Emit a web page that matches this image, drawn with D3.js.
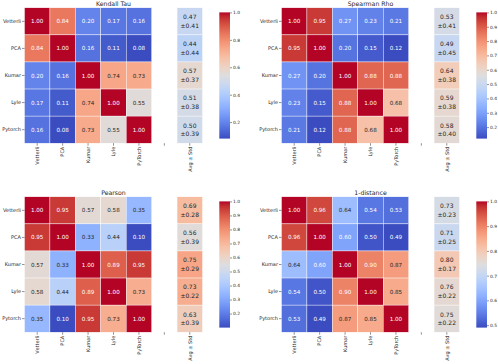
<!DOCTYPE html>
<html>
<head>
<meta charset="utf-8">
<script src="https://cdn.jsdelivr.net/npm/d3@7"></script>
<style>
  html, body { margin: 0; padding: 0; background: #fff; }
  svg { display: block; font-family: "DejaVu Sans", sans-serif; }
</style>
</head>
<body>
<svg id="chart" width="498" height="364"></svg>
<script>
// ---------- data ----------
const rowLabels = ["Vetterli", "PCA", "Kumar", "Lyle", "Pytorch"];
const colLabels = ["Vetterli", "PCA", "Kumar", "Lyle", "PyTorch", "", "Avg \u00b1 Std"];

const kendall = [
  [1.00, 0.84, 0.20, 0.17, 0.16],
  [0.84, 1.00, 0.16, 0.11, 0.08],
  [0.20, 0.16, 1.00, 0.74, 0.73],
  [0.17, 0.11, 0.74, 1.00, 0.55],
  [0.16, 0.08, 0.73, 0.55, 1.00]
];
const kendallAvg = [0.47, 0.44, 0.57, 0.51, 0.50];
const kendallStd = [0.41, 0.44, 0.37, 0.38, 0.39];
const kendallTicks = [0.2, 0.4, 0.6, 0.8, 1.0];

const spearman = [
  [1.00, 0.95, 0.27, 0.23, 0.21],
  [0.95, 1.00, 0.20, 0.15, 0.12],
  [0.27, 0.20, 1.00, 0.88, 0.88],
  [0.23, 0.15, 0.88, 1.00, 0.68],
  [0.21, 0.12, 0.88, 0.68, 1.00]
];
const spearmanAvg = [0.53, 0.49, 0.64, 0.59, 0.58];
const spearmanStd = [0.41, 0.45, 0.38, 0.38, 0.40];
const spearmanTicks = [0.2, 0.3, 0.4, 0.5, 0.6, 0.7, 0.8, 0.9, 1.0];

const pearson = [
  [1.00, 0.95, 0.57, 0.58, 0.35],
  [0.95, 1.00, 0.33, 0.44, 0.10],
  [0.57, 0.33, 1.00, 0.89, 0.95],
  [0.58, 0.44, 0.89, 1.00, 0.73],
  [0.35, 0.10, 0.95, 0.73, 1.00]
];
const pearsonAvg = [0.69, 0.56, 0.75, 0.73, 0.63];
const pearsonStd = [0.28, 0.39, 0.29, 0.22, 0.39];
const pearsonTicks = [0.2, 0.3, 0.4, 0.5, 0.6, 0.7, 0.8, 0.9, 1.0];

const oneDist = [
  [1.00, 0.96, 0.64, 0.54, 0.53],
  [0.96, 1.00, 0.60, 0.50, 0.49],
  [0.64, 0.60, 1.00, 0.90, 0.87],
  [0.54, 0.50, 0.90, 1.00, 0.85],
  [0.53, 0.49, 0.87, 0.85, 1.00]
];
const oneDistAvg = [0.73, 0.71, 0.80, 0.76, 0.75];
const oneDistStd = [0.23, 0.25, 0.17, 0.22, 0.22];
const oneDistTicks = [0.5, 0.6, 0.7, 0.8, 0.9, 1.0];

const titles = ["Kendall Tau", "Spearman Rho", "Pearson", "1-distance"];

// ---------- colormap (matplotlib coolwarm) ----------
const coolwarmStops = [
  [59,76,192],[68,90,204],[77,104,215],[87,117,225],[98,130,234],[108,142,241],
  [119,154,247],[130,165,251],[141,176,254],[152,185,255],[163,194,255],[174,201,253],
  [184,208,249],[194,213,244],[204,217,238],[213,219,230],[221,221,221],[229,216,209],
  [236,211,197],[241,204,185],[245,196,173],[247,187,160],[247,177,148],[247,166,135],
  [244,154,123],[241,141,111],[236,127,99],[229,112,88],[222,96,77],[213,80,66],
  [203,62,56],[192,40,47],[180,4,38]
].map(c => `rgb(${c[0]},${c[1]},${c[2]})`);
const coolwarm = d3.scaleLinear()
  .domain(d3.range(33).map(i => i / 32))
  .range(coolwarmStops)
  .interpolate(d3.interpolateRgb)
  .clamp(true);

function luminance(colStr) {
  const c = d3.rgb(colStr);
  const f = v => { v = v / 255; return v <= 0.03928 ? v / 12.92 : Math.pow((v + 0.055) / 1.055, 2.4); };
  return 0.2126 * f(c.r) + 0.7152 * f(c.g) + 0.0722 * f(c.b);
}

// ---------- drawing ----------
const svg = d3.select("#chart");
const panels = [
  { title: titles[0], m: kendall,  avg: kendallAvg,  std: kendallStd,  ticks: kendallTicks,  ox: 0,   oy: 0 },
  { title: titles[1], m: spearman, avg: spearmanAvg, std: spearmanStd, ticks: spearmanTicks, ox: 257, oy: 0 },
  { title: titles[2], m: pearson,  avg: pearsonAvg,  std: pearsonStd,  ticks: pearsonTicks,  ox: 0,   oy: 189 },
  { title: titles[3], m: oneDist,  avg: oneDistAvg,  std: oneDistStd,  ticks: oneDistTicks,  ox: 257, oy: 189 }
];

const textCol = "#262626";

panels.forEach((p, pi) => {
  const g = svg.append("g").attr("transform", `translate(${p.ox},${p.oy})`);
  const x = d3.scaleBand().domain(d3.range(7)).range([24.5, 202.5]);
  const y = d3.scaleBand().domain(d3.range(5)).range([7.8, 143.2]);
  const flat = p.m.flat();
  const vmin = d3.min(flat), vmax = d3.max(flat);
  const norm = d3.scaleLinear().domain([vmin, vmax]).range([0, 1]);
  const color = v => coolwarm(norm(v));

  // cells
  const cells = [];
  p.m.forEach((row, r) => row.forEach((v, c) => cells.push({ r, c, v, avg: false })));
  p.avg.forEach((v, r) => cells.push({ r, c: 6, v, s: p.std[r], avg: true }));

  const cg = g.append("g");
  cg.selectAll("rect").data(cells).join("rect")
    .attr("x", d => x(d.c))
    .attr("y", d => y(d.r))
    .attr("width", x.bandwidth())
    .attr("height", y.bandwidth())
    .attr("fill", d => color(d.v))
    .attr("stroke", "#fff")
    .attr("stroke-width", 0.4);

  // annotations
  cells.forEach(d => {
    const fill = color(d.v);
    const tc = luminance(fill) > 0.408 ? textCol : "#fff";
    const cx = x(d.c) + x.bandwidth() / 2;
    const cy = y(d.r) + y.bandwidth() / 2;
    if (!d.avg) {
      cg.append("text").attr("x", cx).attr("y", cy).attr("dy", "0.36em")
        .attr("text-anchor", "middle").attr("font-size", 5.6).attr("fill", tc)
        .text(d3.format(".2f")(d.v));
    } else {
      cg.append("text").attr("x", cx).attr("y", cy - 4.3).attr("dy", "0.36em")
        .attr("text-anchor", "middle").attr("font-size", 6).attr("fill", tc)
        .text(d3.format(".2f")(d.v));
      cg.append("text").attr("x", cx).attr("y", cy + 4.3).attr("dy", "0.36em")
        .attr("text-anchor", "middle").attr("font-size", 6).attr("fill", tc)
        .text("\u00b1" + d3.format(".2f")(d.s));
    }
  });

  // y axis
  const ya = g.append("g").attr("transform", `translate(${x.range()[0]},0)`)
    .call(d3.axisLeft(y).tickSize(2.5).tickPadding(1).tickFormat(i => rowLabels[i]));
  ya.select(".domain").remove();
  ya.selectAll("line").attr("stroke", textCol).attr("stroke-width", 0.5);
  ya.selectAll("text").attr("font-size", 5).attr("fill", textCol).attr("font-family", "DejaVu Sans");

  // x axis
  const xa = g.append("g").attr("transform", `translate(0,${y.range()[1]})`)
    .call(d3.axisBottom(x).tickSize(2.5).tickPadding(1).tickFormat(i => colLabels[i]));
  xa.select(".domain").remove();
  xa.selectAll("line").attr("stroke", textCol).attr("stroke-width", 0.5);
  xa.selectAll("text")
    .attr("font-size", 5).attr("fill", textCol).attr("font-family", "DejaVu Sans")
    .attr("transform", "rotate(-90)")
    .attr("text-anchor", "end")
    .attr("x", -3.5).attr("y", 0).attr("dy", "0.35em");

  // title
  g.append("text")
    .attr("x", (x.range()[0] + x.range()[1]) / 2)
    .attr("y", y.range()[0] - 1.6)
    .attr("text-anchor", "middle")
    .attr("font-size", 6.2)
    .attr("fill", textCol)
    .text(p.title);

  // colorbar
  const cbX = 219.3, cbW = 10.7, cbTop = 12.4, cbBot = 138.6;
  const gid = "grad" + pi;
  const grad = svg.append("defs").append("linearGradient").attr("id", gid)
    .attr("x1", 0).attr("y1", 1).attr("x2", 0).attr("y2", 0);
  d3.range(65).forEach(i => {
    const t = i / 64;
    grad.append("stop").attr("offset", t).attr("stop-color", coolwarm(t));
  });
  g.append("rect").attr("x", cbX).attr("y", cbTop).attr("width", cbW).attr("height", cbBot - cbTop)
    .attr("fill", `url(#${gid})`);
  const cy = d3.scaleLinear().domain([vmin, vmax]).range([cbBot, cbTop]);
  const ca = g.append("g").attr("transform", `translate(${cbX + cbW},0)`)
    .call(d3.axisRight(cy).tickValues(p.ticks).tickSize(2).tickPadding(1).tickFormat(d3.format(".1f")));
  ca.select(".domain").remove();
  ca.selectAll("line").attr("stroke", textCol).attr("stroke-width", 0.5);
  ca.selectAll("text").attr("font-size", 4.4).attr("fill", textCol).attr("font-family", "DejaVu Sans");
});
</script>
</body>
</html>
